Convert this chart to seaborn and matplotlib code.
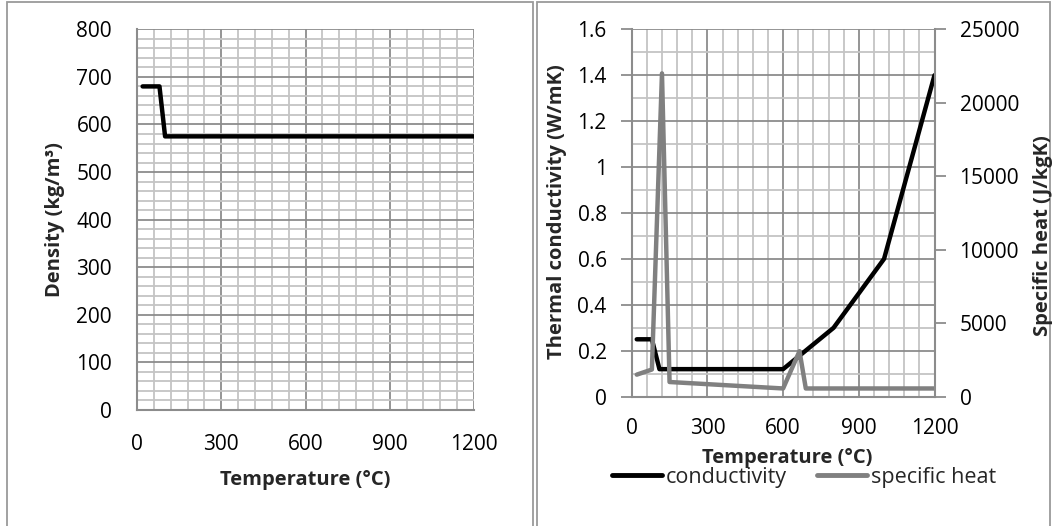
import numpy as np
import pandas as pd
import matplotlib
matplotlib.use("Agg")
import matplotlib.pyplot as plt
from matplotlib.patches import Rectangle
from matplotlib.ticker import MultipleLocator
from matplotlib.lines import Line2D
import seaborn as sns

# density curve
dens_temp = [20, 80, 100, 1200]
dens_val = [680, 680, 575, 575]

# thermal conductivity
cond_temp = [20, 80, 110, 600, 800, 1000, 1200]
cond_val = [0.25, 0.25, 0.12, 0.12, 0.3, 0.6, 1.4]

# specific heat
cp_temp = [20, 80, 120, 150, 600, 665, 690, 1200]
cp_val = [1500, 1850, 22000, 1000, 560, 3100, 560, 560]

sns.set_theme(style="white")
plt.rcParams['font.family'] = ['Open Sans', 'DejaVu Sans']

W, H = 1052, 526
fig = plt.figure(figsize=(W / 100, H / 100), dpi=100)

def box(x0, y0, x1, y1):
    # axes position from pixel coords
    return [x0 / W, 1 - y1 / H, (x1 - x0) / W, (y1 - y0) / H]

major_c = "#8c8c8c"
minor_c = "#c4c4c4"
tick_fs = 15
lab_fs = 14.5

def style_axes(ax, xmaj, xmin, ymaj, ymin):
    ax.xaxis.set_major_locator(MultipleLocator(xmaj))
    ax.xaxis.set_minor_locator(MultipleLocator(xmin))
    ax.yaxis.set_major_locator(MultipleLocator(ymaj))
    ax.yaxis.set_minor_locator(MultipleLocator(ymin))
    ax.grid(True, which="minor", color=minor_c, lw=1.3, zorder=0)
    ax.grid(True, which="major", color=major_c, lw=1.3, zorder=0)
    ax.set_axisbelow(True)
    for s in ["top", "right"]:
        ax.spines[s].set_visible(False)
    for s in ["left", "bottom"]:
        ax.spines[s].set_color(major_c)
        ax.spines[s].set_linewidth(1.5)
    ax.tick_params(which="major", direction="out", length=8, width=1.3,
                   color=major_c, labelsize=tick_fs, labelcolor="black")
    ax.tick_params(which="minor", length=0)
    ax.tick_params(axis="x", pad=9)
    ax.tick_params(axis="y", pad=10)

# ---- left: density ----
ax1 = fig.add_axes(box(137, 29.3, 474, 410))
sns.lineplot(x=dens_temp, y=dens_val, ax=ax1, color="black", lw=3.2)
ax1.set_xlim(0, 1200)
ax1.set_ylim(0, 800)
style_axes(ax1, 300, 60, 100, 20)
ax1.set_xlabel("Temperature (°C)", fontsize=lab_fs, fontweight="bold")
ax1.set_ylabel("Density (kg/m³)", fontsize=lab_fs, fontweight="bold")
ax1.xaxis.set_label_coords(0.5, (410 - 480) / 380.7)
ax1.xaxis.label.set_va("center")
ax1.yaxis.set_label_coords((55 - 137) / 337, 0.5)
ax1.yaxis.label.set_va("center")

# ---- right: conductivity + specific heat ----
ax2 = fig.add_axes(box(631.7, 29.3, 934.5, 396.7))
sns.lineplot(x=cond_temp, y=cond_val, ax=ax2, color="black", lw=3.2, zorder=3)
ax2.set_xlim(0, 1200)
ax2.set_ylim(0, 1.6)
style_axes(ax2, 300, 60, 0.2, 0.1)
ax2.yaxis.set_major_formatter(plt.FuncFormatter(lambda v, p: f"{v:g}"))
ax2.tick_params(axis="x", pad=7)
ax2.set_xlabel("Temperature (°C)", fontsize=lab_fs, fontweight="bold")
ax2.set_ylabel("Thermal conductivity (W/mK)", fontsize=lab_fs, fontweight="bold")
ax2.xaxis.set_label_coords(0.515, (396.7 - 458) / 367.4)
ax2.xaxis.label.set_va("center")
ax2.yaxis.set_label_coords((557 - 631.7) / 302.8, 0.505)
ax2.yaxis.label.set_va("center")

ax3 = ax2.twinx()
sns.lineplot(x=cp_temp, y=cp_val, ax=ax3, color="#808080", lw=3.2)
ax3.set_ylim(0, 25000)
ax3.yaxis.set_major_locator(MultipleLocator(5000))
for s in ["top", "left", "bottom"]:
    ax3.spines[s].set_visible(False)
ax3.spines["right"].set_color(major_c)
ax3.spines["right"].set_linewidth(1.5)
ax3.tick_params(axis="y", direction="out", length=8, width=1.3, color=major_c,
                labelsize=tick_fs, labelcolor="black", pad=10)
ax3.grid(False)
ax3.set_ylabel("")
fig.text(1043 / W, 1 - 236 / H, "Specific heat (J/kgK)", rotation=90,
         ha="center", va="center", fontsize=lab_fs, fontweight="bold")

handles = [Line2D([], [], color="black", lw=3.5),
           Line2D([], [], color="#808080", lw=3.5)]
fig.legend(handles, ["conductivity", "specific heat"], loc="center",
           bbox_to_anchor=(804 / W, 1 - 477 / H), ncol=2, frameon=False,
           fontsize=15.5, handlelength=2.3, handletextpad=0.2, columnspacing=1.4)

# chart borders
for x0, x1 in [(7, 533), (537, 1050)]:
    fig.patches.append(Rectangle((x0 / W, -0.05), (x1 - x0) / W, 1 - 2 / H + 0.05,
                                 transform=fig.transFigure, fill=False,
                                 edgecolor="#9a9a9a", lw=1.3))

fig.savefig("out.png", dpi=100)
